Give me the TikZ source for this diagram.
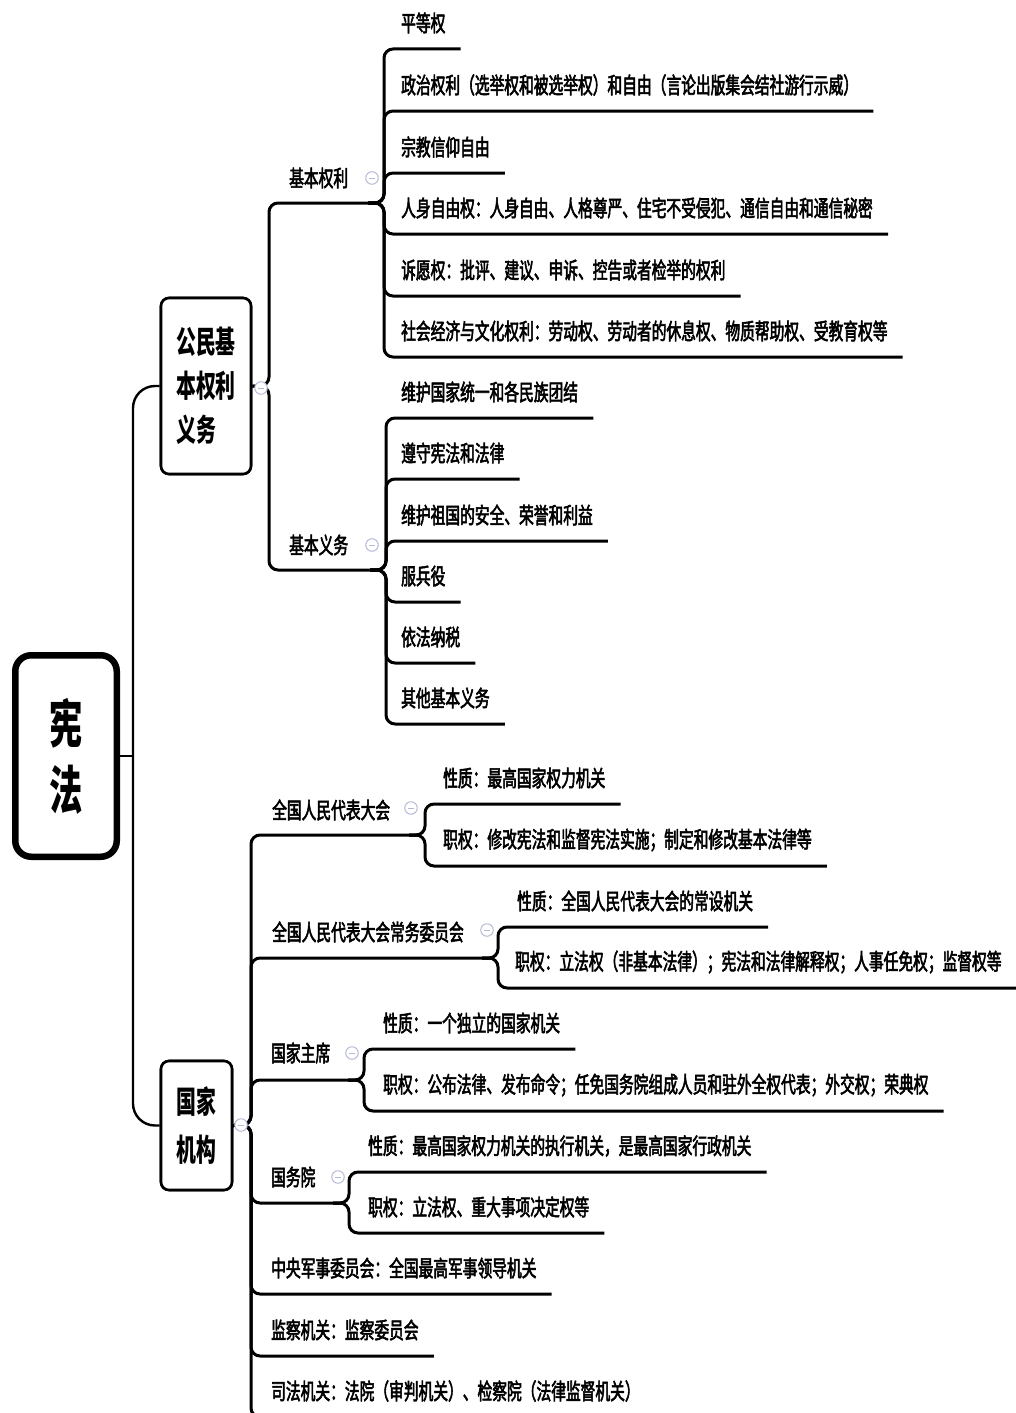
\documentclass[tikz,border=0pt]{standalone}
\usepackage{fontspec}
\setmainfont{Noto Sans CJK SC}[FakeStretch=0.655,FakeBold=2.4]
\newfontfamily\boxfont{Noto Sans CJK SC}[FakeStretch=0.64]
\usetikzlibrary{calc}
\definecolor{iconc}{HTML}{B4B9D6}
\newcommand\lf[4]{\node[txt] (#1) at (#2,#3) {#4};
  \coordinate (#1-r) at ($(#1.east)+(15,26)$);}
\newcommand\br[3]{\draw[conn] (#1) -- (#2) |- (#3);}
\begin{document}
\begin{tikzpicture}[x=1pt,y=-1pt,
  txt/.style={inner sep=0pt,anchor=west,text=black,font=\fontsize{22.5}{27}\selectfont},
  conn/.style={line width=3pt,rounded corners=9pt},
  rootconn/.style={line width=2.4pt,rounded corners=22pt},
  boxst/.style={draw,line width=2.6pt,rounded corners=8pt,fill=white,inner sep=0pt,align=left},
  icon/.style={circle,draw=iconc,fill=white,line width=1pt,minimum size=12.5pt,inner sep=0pt,
    path picture={\draw[iconc,line width=1pt] ([xshift=-3pt]path picture bounding box.center) -- ([xshift=3pt]path picture bounding box.center);}}]
\useasboundingbox (0,0) rectangle (1016,1413);
\clip (0,0) rectangle (1016,1413);
\fill[white] (0,0) rectangle (1016,1413);

% ---------- text nodes ----------
\node[draw,line width=6.5pt,rounded corners=16pt,minimum width=101.5pt,minimum height=201.5pt,inner sep=0pt,align=center,
  font=\boxfont\bfseries\fontsize{52}{66}\selectfont] (root) at (66,756) {宪\\法};
\node[boxst,minimum width=90pt,minimum height=176pt,font=\boxfont\bfseries\fontsize{31}{44}\selectfont] (gm) at (206,386) {公民基\\本权利\\义务};
\node[boxst,minimum width=71pt,minimum height=129pt,font=\boxfont\bfseries\fontsize{31}{48}\selectfont] (gj) at (196.5,1125.5) {国家\\机构};

% second level under gm
\node[txt] (ql) at (289,178) {基本权利};
\coordinate (ql-r) at (376,203); \coordinate (ql-a) at (368,203); \coordinate (ql-t) at (384,203);
\node[txt] (qy) at (289,545) {基本义务};
\coordinate (qy-r) at (378,570); \coordinate (qy-a) at (370,570); \coordinate (qy-t) at (386,570);

% kids of ql
\lf{a1}{401}{23}{平等权}
\lf{a2}{401}{85}{政治权利（选举权和被选举权）和自由（言论出版集会结社游行示威）}
\lf{a3}{401}{147}{宗教信仰自由}
\lf{a4}{401}{208}{人身自由权：人身自由、人格尊严、住宅不受侵犯、通信自由和通信秘密}
\lf{a5}{401}{270}{诉愿权：批评、建议、申诉、控告或者检举的权利}
\lf{a6}{401}{331}{社会经济与文化权利：劳动权、劳动者的休息权、物质帮助权、受教育权等}
% kids of qy
\lf{b1}{401}{392}{维护国家统一和各民族团结}
\lf{b2}{401}{453}{遵守宪法和法律}
\lf{b3}{401}{515}{维护祖国的安全、荣誉和利益}
\lf{b4}{401}{576}{服兵役}
\lf{b5}{401}{637}{依法纳税}
\lf{b6}{401}{698}{其他基本义务}

% second level under gj
\node[txt] (n1) at (272,810) {全国人民代表大会};
\coordinate (n1-r) at (418,835); \coordinate (n1-a) at (409,835); \coordinate (n1-t) at (425,835);
\node[txt] (n2) at (272,932) {全国人民代表大会常务委员会};
\coordinate (n2-r) at (491,958); \coordinate (n2-a) at (482,958); \coordinate (n2-t) at (498,958);
\node[txt] (n3) at (271,1053) {国家主席};
\coordinate (n3-r) at (357,1080); \coordinate (n3-a) at (348,1080); \coordinate (n3-t) at (364,1080);
\node[txt] (n4) at (271,1177) {国务院};
\coordinate (n4-r) at (342,1203); \coordinate (n4-a) at (333,1203); \coordinate (n4-t) at (349,1203);
\lf{n5}{271}{1268}{中央军事委员会：全国最高军事领导机关}
\lf{n6}{271}{1330}{监察机关：监察委员会}
\lf{n7}{271}{1391}{司法机关：法院（审判机关）、检察院（法律监督机关）}

\lf{c1}{443}{778}{性质：最高国家权力机关}
\lf{c2}{443}{840}{职权：修改宪法和监督宪法实施；制定和修改基本法律等}
\lf{d1}{517}{901}{性质：全国人民代表大会的常设机关}
\lf{d2}{515}{962}{职权：立法权（非基本法律）；宪法和法律解释权；人事任免权；监督权等}
\lf{e1}{383}{1023}{性质：一个独立的国家机关}
\lf{e2}{383}{1085}{职权：公布法律、发布命令；任免国务院组成人员和驻外全权代表；外交权；荣典权}
\lf{f1}{368}{1146}{性质：最高国家权力机关的执行机关，是最高国家行政机关}
\lf{f2}{368}{1207}{职权：立法权、重大事项决定权等}

% ---------- connectors ----------
\coordinate (rt) at (133,756);
\draw[line width=2.4pt] (root.east) -- (rt);
\draw[rootconn] (rt) |- (gm.west);
\draw[rootconn] (rt) |- (gj.west);

\coordinate (gm-t) at (269,386);
\br{gm.east}{gm-t}{ql-r}
\br{gm.east}{gm-t}{qy-r}

\foreach \k in {a1,a2,a3,a4,a5,a6}{\br{ql-a}{ql-t}{\k-r}}
\foreach \k in {b1,b2,b3,b4,b5,b6}{\br{qy-a}{qy-t}{\k-r}}

\coordinate (gj-t) at (251,1125);
\foreach \k in {n1,n2,n3,n4,n5,n6,n7}{\br{gj.east}{gj-t}{\k-r}}

\foreach \k in {c1,c2}{\br{n1-a}{n1-t}{\k-r}}
\foreach \k in {d1,d2}{\br{n2-a}{n2-t}{\k-r}}
\foreach \k in {e1,e2}{\br{n3-a}{n3-t}{\k-r}}
\foreach \k in {f1,f2}{\br{n4-a}{n4-t}{\k-r}}

% redraw boxes over line ends
\node[boxst,minimum width=90pt,minimum height=176pt,font=\boxfont\bfseries\fontsize{31}{44}\selectfont] at (206,386) {公民基\\本权利\\义务};
\node[boxst,minimum width=71pt,minimum height=129pt,font=\boxfont\bfseries\fontsize{31}{48}\selectfont] at (196.5,1125.5) {国家\\机构};

% ---------- collapse icons ----------
\node[icon] (i0) at (261,388) {};
\node[icon] (i1) at (241,1125) {};
\node[icon] (i2) at (372,178) {};
\node[icon] (i3) at (372,545) {};
\node[icon] (i4) at (411,808) {};
\node[icon] (i5) at (487,930) {};
\node[icon] (i6) at (352,1053) {};
\node[icon] (i7) at (338,1177) {};
\end{tikzpicture}
\end{document}
